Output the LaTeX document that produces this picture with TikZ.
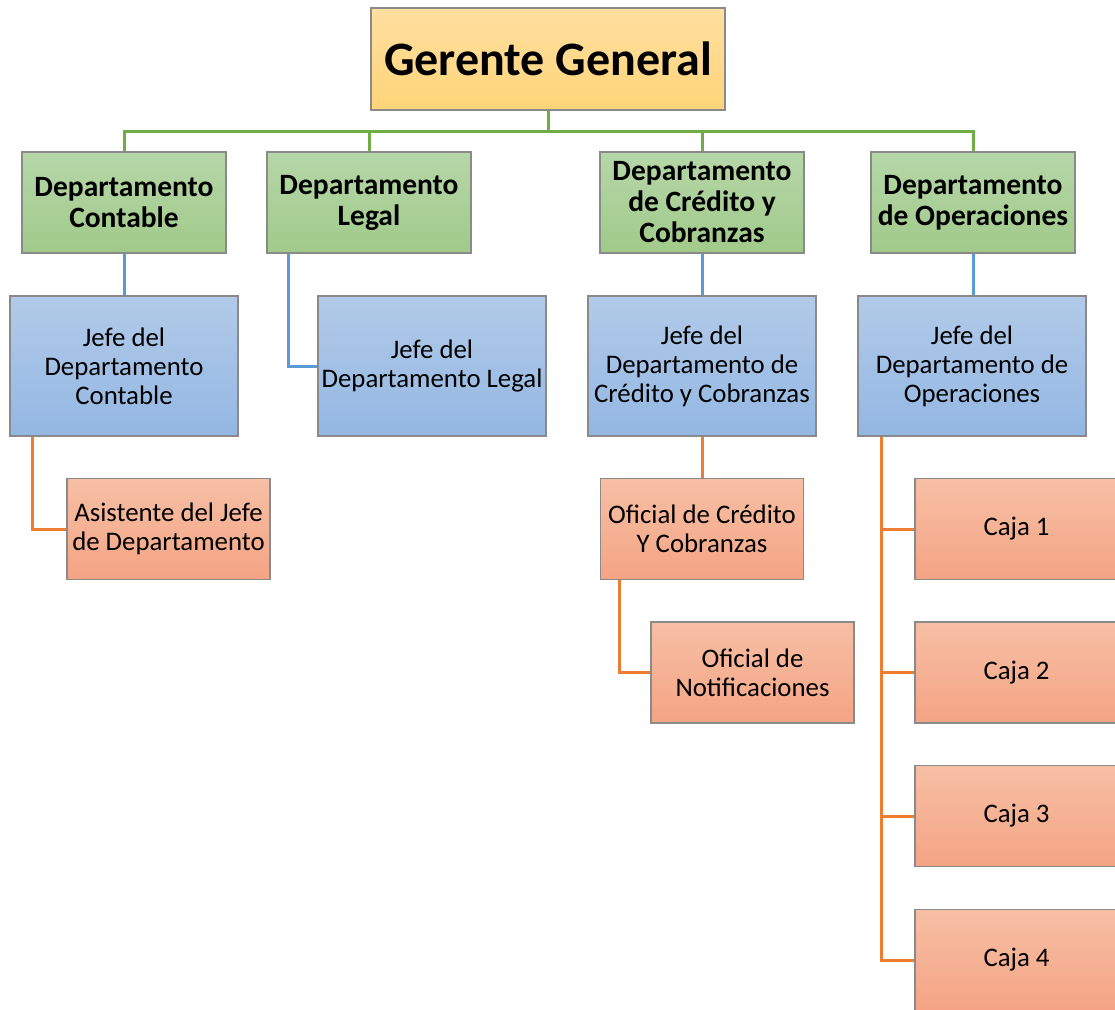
\documentclass[tikz,border=0pt]{standalone}
\usepackage{fontspec}
\setmainfont{Carlito}
\definecolor{goldT}{HTML}{FFDFA0}
\definecolor{goldB}{HTML}{FFD479}
\definecolor{greenT}{HTML}{B6D6A8}
\definecolor{greenB}{HTML}{A0CA8A}
\definecolor{blueT}{HTML}{B2CAE8}
\definecolor{blueB}{HTML}{93B7E3}
\definecolor{orT}{HTML}{F7BFA5}
\definecolor{orB}{HTML}{F4A484}
\definecolor{bordergray}{HTML}{8A8A8A}
\definecolor{lgreen}{HTML}{70AD47}
\definecolor{lblue}{HTML}{5B9BD5}
\definecolor{lorange}{HTML}{ED7D31}
\tikzset{
  box/.style={draw=bordergray, line width=1.3pt, inner sep=0pt, align=center, text=black},
  goldbox/.style={box, top color=goldT, bottom color=goldB, minimum width=354, minimum height=102, font=\bfseries\fontsize{48}{52}\selectfont},
  greenbox/.style={box, top color=greenT, bottom color=greenB, minimum width=204, minimum height=101, font=\bfseries\fontsize{29.5}{31}\selectfont},
  bluebox/.style={box, top color=blueT, bottom color=blueB, minimum width=228, minimum height=140, font=\fontsize{26.8}{29}\selectfont},
  orbox/.style={box, top color=orT, bottom color=orB, minimum width=203, minimum height=101, font=\fontsize{26.8}{29}\selectfont},
  gline/.style={draw=lgreen, line width=3pt},
  bline/.style={draw=lblue, line width=3pt},
  oline/.style={draw=lorange, line width=3pt},
}
\begin{document}
\begin{tikzpicture}[x=1pt,y=-1pt]
\useasboundingbox (0,0) rectangle (1115,1009);
\clip (0,0) rectangle (1115,1009);
% top
\node[goldbox] (gg) at (548,59) {Gerente General};
\coordinate (bus) at (548,131);
% departments
\node[greenbox] (dc) at (124,202.5) {Departamento\\Contable};
\node[greenbox] (dl) at (369,202.5) {Departamento\\Legal};
\node[greenbox] (dcr) at (702,202.5) {Departamento\\de Crédito y\\Cobranzas};
\node[greenbox] (dop) at (973,202.5) {Departamento\\de Operaciones};
% heads
\node[bluebox] (jc) at (124,366) {Jefe del\\Departamento\\Contable};
\node[bluebox] (jl) at (432,366) {Jefe del\\Departamento Legal};
\node[bluebox] (jcr) at (702,366) {Jefe del\\Departamento de\\Crédito y Cobranzas};
\node[bluebox] (jop) at (972,366) {Jefe del\\Departamento de\\Operaciones};
% staff
\node[orbox] (as) at (168.5,529) {Asistente del Jefe\\de Departamento};
\node[orbox] (oc) at (702,529) {Oficial de Crédito\\Y Cobranzas};
\node[orbox] (on) at (752.5,672.5) {Oficial de\\Notificaciones};
\node[orbox] (c1) at (1016.5,529) {Caja 1};
\node[orbox] (c2) at (1016.5,672.5) {Caja 2};
\node[orbox] (c3) at (1016.5,816) {Caja 3};
\node[orbox] (c4) at (1016.5,960) {Caja 4};
% green connectors
\draw[gline] (gg.south) -- (bus);
\draw[gline] (dc.north) |- (bus) -| (dop.north);
\draw[gline] (dl.north) -- (dl.north |- bus);
\draw[gline] (dcr.north) -- (dcr.north |- bus);
% blue connectors
\draw[bline] (dc.south) -- (jc.north);
\draw[bline] ([xshift=-81pt]dl.south) |- (jl.west);
\draw[bline] (dcr.south) -- (jcr.north);
\draw[bline] (dop.south) -- (dop.south |- jop.north);
% orange connectors
\draw[oline] ([xshift=23pt]jc.south west) |- (as.west);
\draw[oline] (jcr.south) -- (oc.north);
\draw[oline] ([xshift=20pt]oc.south west) |- (on.west);
\coordinate (trunk) at ([xshift=24pt]jop.south west);
\draw[oline] (trunk) |- (c4.west);
\draw[oline] (c1.west) -- (c1.west -| trunk);
\draw[oline] (c2.west) -- (c2.west -| trunk);
\draw[oline] (c3.west) -- (c3.west -| trunk);
\end{tikzpicture}
\end{document}
